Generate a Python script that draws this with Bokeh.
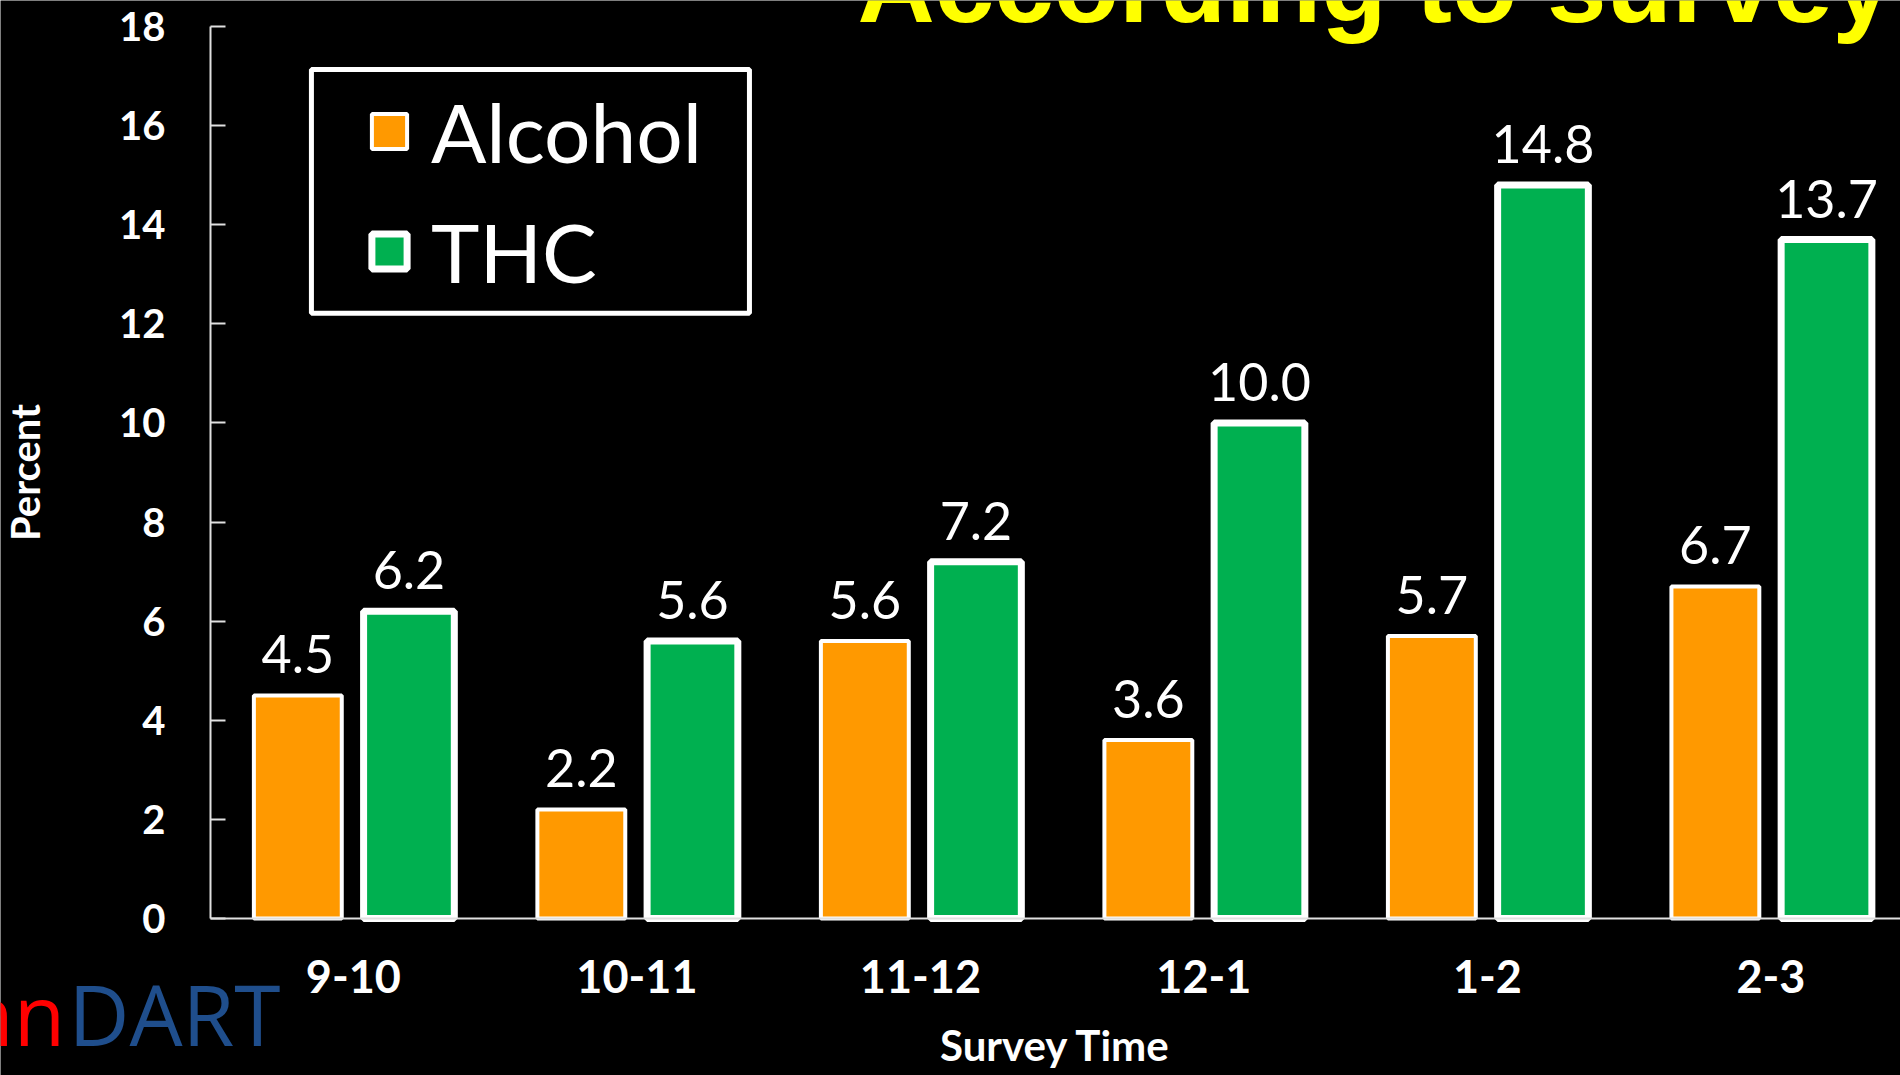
from bokeh.plotting import figure
from bokeh.models import (ColumnDataSource, Label, Legend, LegendItem, FixedTicker,
                          Range1d, BoxAnnotation)
from bokeh.core.properties import value
from bokeh.embed import file_html
from bokeh.resources import INLINE

categories = ["9-10", "10-11", "11-12", "12-1", "1-2", "2-3"]
alcohol = [4.5, 2.2, 5.6, 3.6, 5.7, 6.7]
thc = [6.2, 5.6, 7.2, 10.0, 14.8, 13.7]
y_ticks = [0, 2, 4, 6, 8, 10, 12, 14, 16, 18]

ORANGE = "#FF9900"
GREEN = "#00B050"
idx = list(range(len(categories)))
off = 0.196

src = ColumnDataSource(dict(
    xa=[i - off for i in idx], xt=[i + off for i in idx],
    alcohol=alcohol, thc=thc,
    la=[f"{v:.1f}" for v in alcohol], lt=[f"{v:.1f}" for v in thc],
))

W, H = 1900, 1075
X0, X1 = -0.504, 5.457          # extent of the category axis
p = figure(width=W, height=H, output_backend="svg", toolbar_location=None,
           x_range=Range1d(-1.2447, X1), y_range=Range1d(-3.168, 18.523),
           background_fill_color="black", border_fill_color="black",
           min_border_left=0, min_border_right=0, min_border_top=0,
           min_border_bottom=0)
p.outline_line_color = None
p.grid.visible = False

ra = p.vbar(x="xa", top="alcohol", width=0.31, source=src, fill_color=ORANGE,
            line_color="white", line_width=4)
rt = p.vbar(x="xt", top="thc", width=0.32, source=src, fill_color=GREEN,
            line_color="white", line_width=7)

lab_font = value("Lato")
p.text(x="xa", y="alcohol", text="la", source=src, text_align="center",
       text_baseline="alphabetic", y_offset=-41, text_color="white",
       text_font=lab_font, text_font_size="52px")
p.text(x="xt", y="thc", text="lt", source=src, text_align="center",
       text_baseline="alphabetic", y_offset=-41, text_color="white",
       text_font=lab_font, text_font_size="52px")

# axes
xa = p.xaxis[0]
xa.fixed_location = 0
xa.bounds = (X0, X1)
xa.ticker = FixedTicker(ticks=idx)
xa.major_label_overrides = {i: c for i, c in zip(idx, categories)}
xa.major_tick_in = 0
xa.major_tick_out = 0
xa.minor_tick_line_color = None
xa.axis_line_color = "#E0E0E0"
xa.axis_line_width = 2
xa.major_label_text_color = "white"
xa.major_label_text_font = "Lato"
xa.major_label_text_font_style = "bold"
xa.major_label_text_font_size = "45px"
xa.major_label_standoff = 42
xa.axis_label = "Survey Time"
xa.axis_label_text_color = "white"
xa.axis_label_text_font = "Lato"
xa.axis_label_text_font_style = "bold"
xa.axis_label_text_font_size = "42px"
xa.axis_label_standoff = 23

ya = p.yaxis[0]
ya.fixed_location = X0
ya.bounds = (0, 18)
ya.ticker = FixedTicker(ticks=y_ticks)
ya.major_tick_in = 15
ya.major_tick_out = 0
ya.major_tick_line_color = "#E0E0E0"
ya.major_tick_line_width = 2
ya.minor_tick_line_color = None
ya.axis_line_color = "#E0E0E0"
ya.axis_line_width = 2
ya.major_label_text_color = "white"
ya.major_label_text_font = "Lato"
ya.major_label_text_font_style = "bold"
ya.major_label_text_font_size = "40px"
ya.major_label_standoff = 45
ya.axis_label = "Percent"
ya.axis_label_text_color = "white"
ya.axis_label_text_font = "Lato"
ya.axis_label_text_font_style = "bold"
ya.axis_label_text_font_size = "40px"
ya.axis_label_standoff = 67

# legend frame (decoration)
legend_box = BoxAnnotation(left=-0.148, right=1.397, top=17.13, bottom=12.21,
                           fill_alpha=0, line_color="white", line_width=5,
                           line_alpha=1.0)
p.add_layout(legend_box)

legend = Legend(items=[LegendItem(label="Alcohol", renderers=[ra]),
                       LegendItem(label="THC", renderers=[rt])],
                location=(367, 775), orientation="vertical",
                background_fill_alpha=0, border_line_alpha=0,
                label_text_color="white", label_text_font="Lato",
                label_text_font_size="82px", glyph_width=44, glyph_height=44,
                label_standoff=20, padding=0, spacing=22, margin=0)
p.add_layout(legend)

title = Label(x=1.778, y=18.84, text="According to survey", text_color="#FFFF00",
              text_font="Liberation Sans", text_font_style="bold",
              text_font_size="107px", text_baseline="alphabetic")
p.add_layout(title)

logo_red = Label(x=-1.016, y=-1.925, text="nn", text_color="#FF0000",
                 text_font="Open Sans", text_font_size="84px",
                 text_align="right", text_baseline="alphabetic")
logo_blue = Label(x=-1.005, y=-1.925, text="DART", text_color="#1F4E8C",
                  text_font="Open Sans", text_font_size="84px",
                  text_align="left", text_baseline="alphabetic")
p.add_layout(logo_red)
p.add_layout(logo_blue)

open("out.html", "w").write(file_html(p, INLINE))
